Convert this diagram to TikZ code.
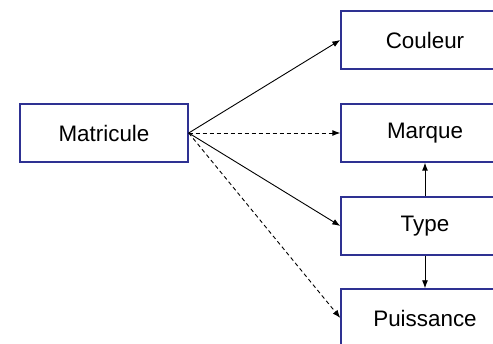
\documentclass[tikz,border=0pt]{standalone}
\usepackage{fontspec}
\setmainfont{Liberation Sans}
\usetikzlibrary{arrows.meta}
\definecolor{boxblue}{RGB}{46,49,146}
\begin{document}
\begin{tikzpicture}[x=1pt,y=-1pt,
  entity/.style={draw=boxblue,line width=1.4pt,fill=white,minimum width=168pt,minimum height=58pt,
    inner sep=0pt,font=\fontsize{22.4}{26}\selectfont},
  link/.style={line width=0.9pt,-{Latex[length=8pt,width=6pt]}},
  weak/.style={link,dash pattern=on 4pt off 3pt}]
\useasboundingbox (0,0) rectangle (493,344);
\begin{scope}
\clip (0,0) rectangle (493,344);
\node[entity] (mat) at (104,133) {Matricule};
\node[entity] (cou) at (425,40) {Couleur};
\node[entity] (mar) at (425,133) {Marque};
\node[entity] (typ) at (425,226) {Type};
\node[entity] (pui) at (425,318) {Puissance};
\draw[link] (mat.east) -- (cou.west);
\draw[weak] (mat.east) -- (mar.west);
\draw[link] (mat.east) -- (typ.west);
\draw[weak] (mat.east) -- (pui.west);
\draw[link] (typ.north) -- (mar.south);
\draw[link] (typ.south) -- (pui.north);
\end{scope}
\end{tikzpicture}
\end{document}
